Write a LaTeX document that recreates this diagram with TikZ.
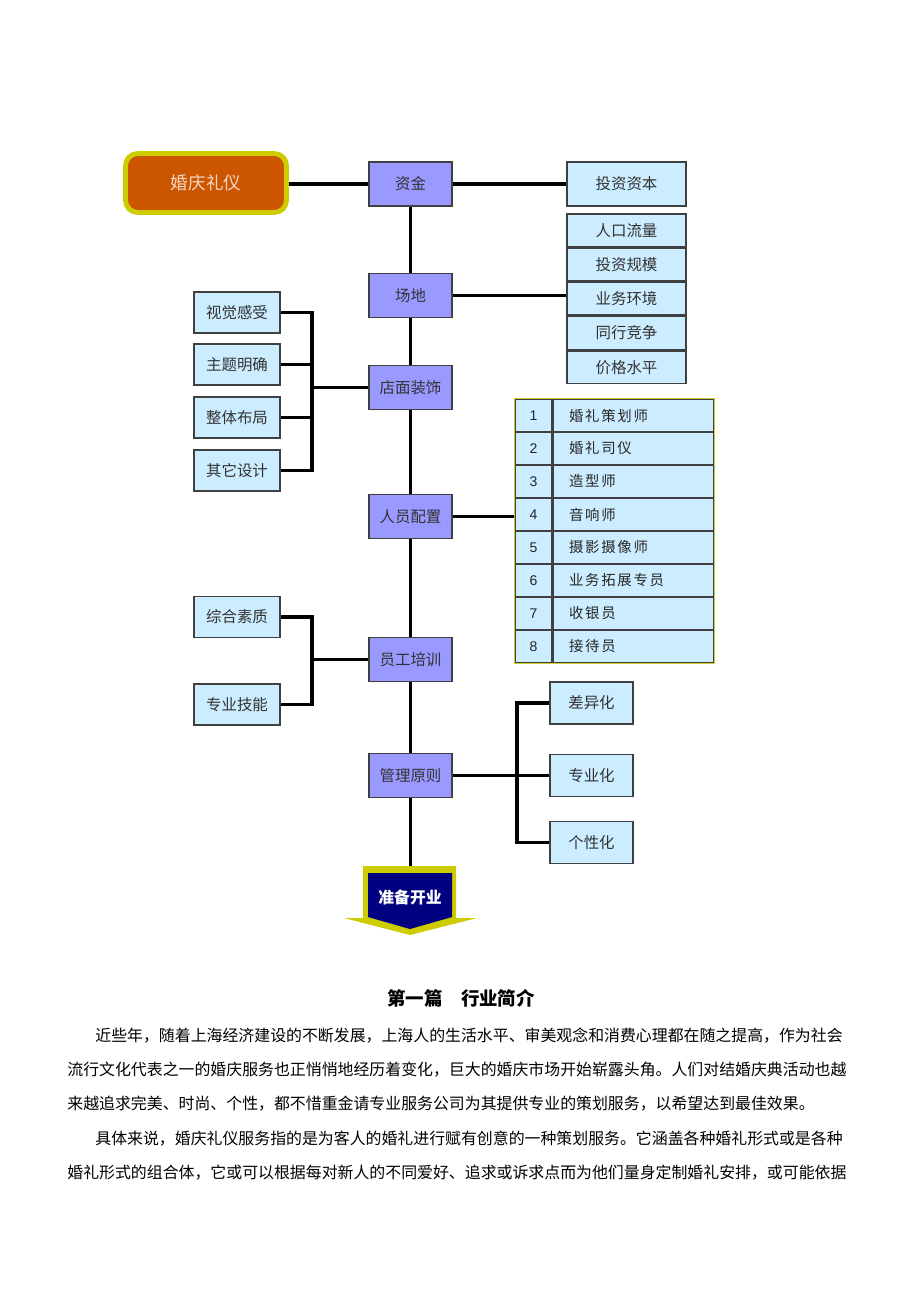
\documentclass[tikz,border=0pt]{standalone}
\usepackage{fontspec}
\usepackage{xcolor}
\setmainfont{Liberation Sans}
\newfontfamily\cjk{Noto Sans CJK SC}
\newfontfamily\cjkls[LetterSpace=12]{Noto Sans CJK SC}
\XeTeXinterchartokenstate=1
\XeTeXinterchartoks 1 1 = {\hskip 0pt plus 2pt\relax}
\XeTeXinterchartoks 1 3 = {\hskip 0pt plus 2pt\relax}
\XeTeXinterchartoks 3 1 = {\hskip 0pt plus 2pt\relax}
\XeTeXinterchartoks 1 2 = {\hskip 0pt plus 2pt\relax}
\XeTeXinterchartoks 2 1 = {\hskip 0pt plus 2pt\relax}
\usetikzlibrary{positioning}
\definecolor{boxpurple}{HTML}{9999FF}
\definecolor{boxblue}{HTML}{CCECFF}
\definecolor{heorange}{HTML}{CC5500}
\definecolor{heyellow}{HTML}{CCCC00}
\definecolor{tabyellow}{HTML}{CCCC33}
\definecolor{kynavy}{HTML}{000080}
\definecolor{hetext}{HTML}{F5D8C8}

\begin{document}
\begin{tikzpicture}[x=0.02cm,y=-0.02cm,
  link/.style={line width=2.2pt},
  mainbox/.style={draw=black!75, line width=0.8pt, fill=boxpurple, minimum width=1.66cm,
    minimum height=0.88cm, inner sep=0pt, text=black!80, font=\cjk\fontsize{8.8}{10}\selectfont},
  subbox/.style={mainbox, fill=boxblue, minimum width=1.72cm, minimum height=0.82cm},
  sidebox/.style={subbox, minimum width=1.66cm, minimum height=0.84cm},
  stackbox/.style={subbox, minimum width=2.38cm, minimum height=0.656cm},
  numcell/.style={draw=black!75, line width=0.6pt, fill=boxblue, minimum width=0.74cm,
    minimum height=0.66cm, inner sep=0pt, text=black!85, font=\fontsize{8}{9}\selectfont},
  rowcell/.style={numcell, minimum width=3.22cm, text width=2.58cm, inner xsep=0.32cm,
    align=left, font=\cjkls\fontsize{8.2}{9}\selectfont},
  para/.style={anchor=west, inner sep=0pt, font=\cjk\fontsize{9.05}{10}\selectfont}]
\fill[white] (0,0) rectangle (920,1302);
\useasboundingbox (0,0) rectangle (920,1302);

% main column
\node[draw=heyellow, line width=2.8pt, fill=heorange, rounded corners=7pt, minimum width=3.22cm,
  minimum height=1.18cm, text=hetext, font=\cjk\fontsize{10}{12}\selectfont] (hq) at (206,183) {婚庆礼仪};
\node[mainbox] (zj) at (410.5,184) {资金};
\node[mainbox] (cd) at (410.5,295.5) {场地};
\node[mainbox] (dm) at (410.5,387.5) {店面装饰};
\node[mainbox] (ry) at (410.5,516.5) {人员配置};
\node[mainbox] (yg) at (410.5,659.5) {员工培训};
\node[mainbox] (gl) at (410.5,775.5) {管理原则};

% right side
\node[stackbox, minimum height=0.88cm] (tz) at (626.5,184) {投资资本};
\node[stackbox] (s1) at (626.5,230.4) {人口流量};
\node[stackbox, below=0pt of s1] (s2) {投资规模};
\node[stackbox, below=0pt of s2] (s3) {业务环境};
\node[stackbox, below=0pt of s3] (s4) {同行竞争};
\node[stackbox, below=0pt of s4] (s5) {价格水平};

\foreach \i/\t in {1/婚礼策划师,2/婚礼司仪,3/造型师,4/音响师,5/摄影摄像师,6/业务拓展专员,7/收银员,8/接待员}{
  \node[numcell] (n\i) at (533.5,{399+33*(\i-0.5)}) {\i};
  \node[rowcell, right=0pt of n\i] (r\i) {\t};
}
\draw[tabyellow, line width=1pt] (n1.north west) rectangle (r8.south east);

\node[sidebox] (g1) at (591.5,703) {差异化};
\node[sidebox] (g2) at (591.5,775.5) {专业化};
\node[sidebox] (g3) at (591.5,842.5) {个性化};

% left side
\node[subbox] (v1) at (237,312.5) {视觉感受};
\node[subbox] (v2) at (237,364.5) {主题明确};
\node[subbox] (v3) at (237,417.5) {整体布局};
\node[subbox] (v4) at (237,470.5) {其它设计};
\node[subbox] (p1) at (237,617) {综合素质};
\node[subbox] (p2) at (237,704.5) {专业技能};

% arrow
\fill[heyellow] (363,866) -- (456,866) -- (456,918) -- (477,918) -- (410,935)
  -- (344,918) -- (363,918) -- cycle;
\fill[kynavy] (368,873) -- (452,873) -- (452,917) -- (410,929) -- (368,917) -- cycle;
\node[text=white, font=\cjk\bfseries\fontsize{9}{10}\selectfont] (ky) at (410,897) {准备开业};
\coordinate (kytop) at (410,866);

% connectors
\draw[link] (hq.east |- zj) -- (zj.west);
\draw[link] (zj) -- (tz);
\draw[link] (cd.east) -- (cd.east -| s3.west);
\draw[link] (ry.east) -- (ry.east -| n4.west);
\draw[link] (zj) -- (cd);
\draw[link] (cd) -- (dm);
\draw[link] (dm) -- (ry);
\draw[link] (ry) -- (yg);
\draw[link] (yg) -- (gl);
\draw[link] (gl) -- (gl |- kytop);

\path (dm.west) ++(-56,0) coordinate (bk1);
\foreach \b in {v1,v2,v3,v4} \draw[link] (\b.east) -| (bk1);
\draw[link] (bk1) -- (dm.west);
\path (yg.west) ++(-56,0) coordinate (bk2);
\foreach \b in {p1,p2} \draw[link] (\b.east) -| (bk2);
\draw[link] (bk2) -- (yg.west);
\path (gl.east) ++(64,0) coordinate (bk3);
\foreach \b in {g1,g2,g3} \draw[link] (\b.west) -| (bk3);
\draw[link] (gl.east) -- (bk3);

% text
\node[font=\cjk\bfseries\fontsize{10.5}{12}\selectfont] (title) at (461,998) {第一篇　行业简介};
\node[para] (l1) at (95,1036) {\makebox[15.18cm][s]{近些年，随着上海经济建设的不断发展，上海人的生活水平、审美观念和消费心理都在随之提高，作为社会}};
\node[para] (l2) at (67,1070) {\makebox[15.74cm][s]{流行文化代表之一的婚庆服务也正悄悄地经历着变化，巨大的婚庆市场开始崭露头角。人们对结婚庆典活动也越}};
\node[para] (l3) at (67,1104) {\makebox[15.48cm][s]{来越追求完美、时尚、个性，都不惜重金请专业服务公司为其提供专业的策划服务，以希望达到最佳效果。}};
\node[para] (l4) at (95,1139) {\makebox[15.18cm][s]{具体来说，婚庆礼仪服务指的是为客人的婚礼进行赋有创意的一种策划服务。它涵盖各种婚礼形式或是各种}};
\node[para] (l5) at (67,1173) {\makebox[15.74cm][s]{婚礼形式的组合体，它或可以根据每对新人的不同爱好、追求或诉求点而为他们量身定制婚礼安排，或可能依据}};
\end{tikzpicture}
\end{document}
